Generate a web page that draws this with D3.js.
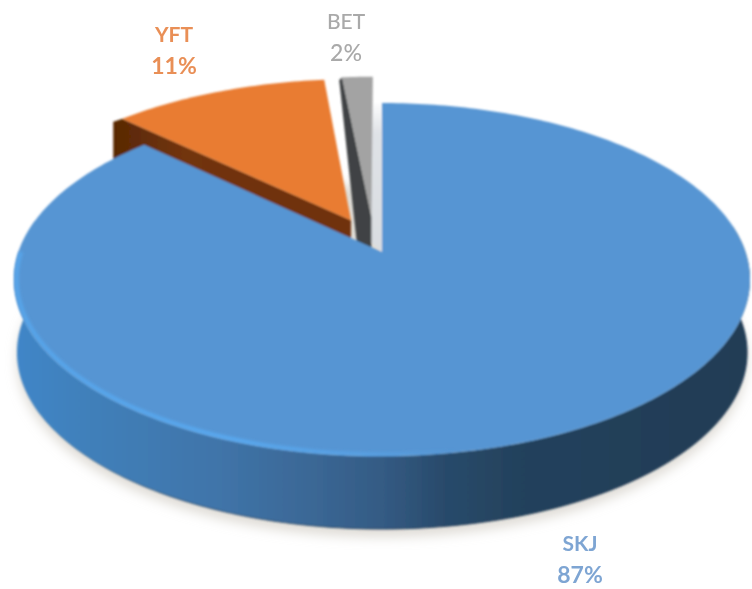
<!DOCTYPE html>
<html><head><meta charset="utf-8">
<script src="https://cdn.jsdelivr.net/npm/d3@7"></script>
<style>html,body{margin:0;padding:0;background:#fff}svg{display:block}</style>
</head><body><div id="chart"></div>
<script>
// Data
const categories = ["SKJ", "YFT", "BET"];
const shares = [87.1, 11.3, 1.6];
const labelColors = ["#7ea5d3", "#e98f57", "#a9a9a9"];
const explodeU = [0, -0.088, -0.03];
const explodeV = [0, -0.19, -0.21];

const W = 752, H = 589;
const persp = 0.156, depth = 73, bottomScale = 0.992;
const x = d3.scaleLinear().domain([-1, 1]).range([382 - 363.5, 382 + 363.5]);
const y = d3.scaleLinear().domain([-1, 1]).range([252 - 172.2, 252 + 172.2]);

function project(a, r, i, extrude) {
  const u = explodeU[i] + r * Math.sin(a), v = explodeV[i] - r * Math.cos(a);
  const w = 1 - persp * v;
  const k = extrude ? bottomScale : 1;
  return [x(k * u / w), y(v / w) + (extrude ? depth : 0)];
}
const line = d3.line();
function arcPts(a0, a1, i, extrude) {
  const n = Math.max(4, Math.ceil(Math.abs(a1 - a0) * 60));
  return d3.range(n + 1).map(k => project(a0 + (a1 - a0) * k / n, 1, i, extrude));
}

const pie = d3.pie().sort(null).value(d => d);
const arcs = pie(shares);

const svg = d3.select("#chart").append("svg").attr("width", W).attr("height", H);
const defs = svg.append("defs");
const blur = (id, s) => defs.append("filter").attr("id", id)
  .attr("x", "-20%").attr("y", "-20%").attr("width", "140%").attr("height", "140%")
  .append("feGaussianBlur").attr("stdDeviation", s);
blur("soft", 0.8); blur("rimBlur", 1.4); blur("shadowBlur", 6); blur("txt", 0.7);

const grad = (id, stops, x1, x2, y1, y2) => {
  const g = defs.append("linearGradient").attr("id", id).attr("gradientUnits", "userSpaceOnUse")
    .attr("x1", x1).attr("x2", x2).attr("y1", y1 || 0).attr("y2", y2 || 0);
  stops.forEach(s => g.append("stop").attr("offset", s[0]).attr("stop-color", s[1]).attr("stop-opacity", s[2] === undefined ? 1 : s[2]));
};
grad("wall", [[0, "#4186c8"], [0.1, "#4180ba"], [0.27, "#4075aa"], [0.4, "#3b6896"], [0.5, "#345b84"], [0.58, "#294b6c"], [0.68, "#24425d"], [1, "#223c55"]], 14, 750);
grad("rim", [[0, "#56a6ec", 0.9], [0.3, "#58a8ef", 1], [0.48, "#58a5ea", 0.65], [0.6, "#58a5ea", 0]], 14, 750);
grad("edge", [[0, "#1d3550", 0], [0.2, "#1d3550", 0.75], [1, "#1d3550", 1]], 14, 750);
grad("gapShade", [[0, "#dfe2e6", 0], [0.22, "#dfe2e6", 1], [1, "#d9dde1", 1]], 0, 0, 100, 252);
grad("brown", [[0, "#582806"], [0.3, "#723409"], [1, "#6f3208"]], 113, 351);

const g = svg.append("g").attr("filter", "url(#soft)");

// ground shadow
const full = arcPts(0, 2 * Math.PI, 0, true).map(p => [p[0], p[1] + 8]);
svg.insert("path", "g").attr("d", line(full) + "Z").attr("fill", "#c9c4ba").attr("fill-opacity", 0.6).attr("filter", "url(#shadowBlur)");

// shaded strip left of the SKJ cut
const tip0 = project(0, 0, 0);
const top0 = project(0, 1, 0);
g.append("path").attr("d", line([[tip0[0] - 11, top0[1]], [tip0[0], top0[1]], tip0, [tip0[0] - 11, tip0[1] - 10]]) + "Z")
  .attr("fill", "url(#gapShade)");

// exploded slices
const topFill = ["#5795d3", "#e97c30", "#a3a3a3"];
[
  { i: 1, fill: "url(#brown)", cornerShift: -9, cornerDepth: 60, tipShift: 0, tipDepth: 60 },
  { i: 2, fill: "#3f4244", cornerShift: -3, cornerDepth: 2, tipShift: -12, tipDepth: 50 }
].forEach(s => {
  const a = arcs[s.i];
  const T = project(0, 0, s.i);
  const A = project(a.startAngle, 1, s.i);
  g.append("path").attr("d", line([
    A, [A[0] + s.cornerShift, A[1] + 3], [A[0] + s.cornerShift, A[1] + s.cornerDepth],
    [T[0] + s.tipShift, T[1] + s.tipDepth], [T[0], T[1] + s.tipDepth], T
  ]) + "Z").attr("fill", s.fill);
  g.append("path").attr("d", line([T, ...arcPts(a.startAngle, a.endAngle, s.i, false)]) + "Z")
    .attr("fill", topFill[s.i]);
});

// SKJ side wall (front arc only), then its bottom, then its top face
const a0 = arcs[0];
const front0 = Math.PI * 0.45, front1 = Math.min(a0.endAngle, Math.PI * 1.56);
const wallPts = [...arcPts(front0, front1, 0, false), ...arcPts(front1, front0, 0, true)];
g.append("path").attr("d", line(wallPts) + "Z").attr("fill", "url(#wall)");
g.append("path").attr("d", line(arcPts(front0, front1, 0, true)))
  .attr("fill", "none").attr("stroke", "url(#edge)").attr("stroke-width", 1);
g.append("path").attr("d", line([tip0, ...arcPts(a0.startAngle, a0.endAngle, 0, false)]) + "Z")
  .attr("fill", topFill[0]);

// rim highlight on the front-left edge of the top face
const rimPts = d3.range(0, 61).map(k => {
  const a = Math.PI * 0.9 + (Math.PI * 1.5 - Math.PI * 0.9) * k / 60;
  return project(a, 0.993, 0, false);
});
svg.append("path").attr("d", line(rimPts)).attr("fill", "none")
  .attr("stroke", "url(#rim)").attr("stroke-width", 4).attr("filter", "url(#rimBlur)");

// labels
const fmt = d3.format(".0f");
const labelX = d3.scaleOrdinal().domain(categories).range([580, 174, 346]);
const labelY = d3.scaleOrdinal().domain(categories).range([551, 42, 29]);
const lab = svg.append("g").attr("filter", "url(#txt)").attr("text-anchor", "middle")
  .attr("font-family", "Lato, 'Open Sans', sans-serif").attr("font-size", 21);
categories.forEach((c, i) => {
  const t = lab.append("g").attr("fill", labelColors[i]).attr("font-weight", i === 2 ? 500 : 700);
  t.append("text").attr("x", labelX(c)).attr("y", labelY(c)).text(c);
  t.append("text").attr("x", labelX(c)).attr("y", labelY(c) + 32).attr("font-size", 23).text(fmt(shares[i]) + "%");
});
</script></body></html>
